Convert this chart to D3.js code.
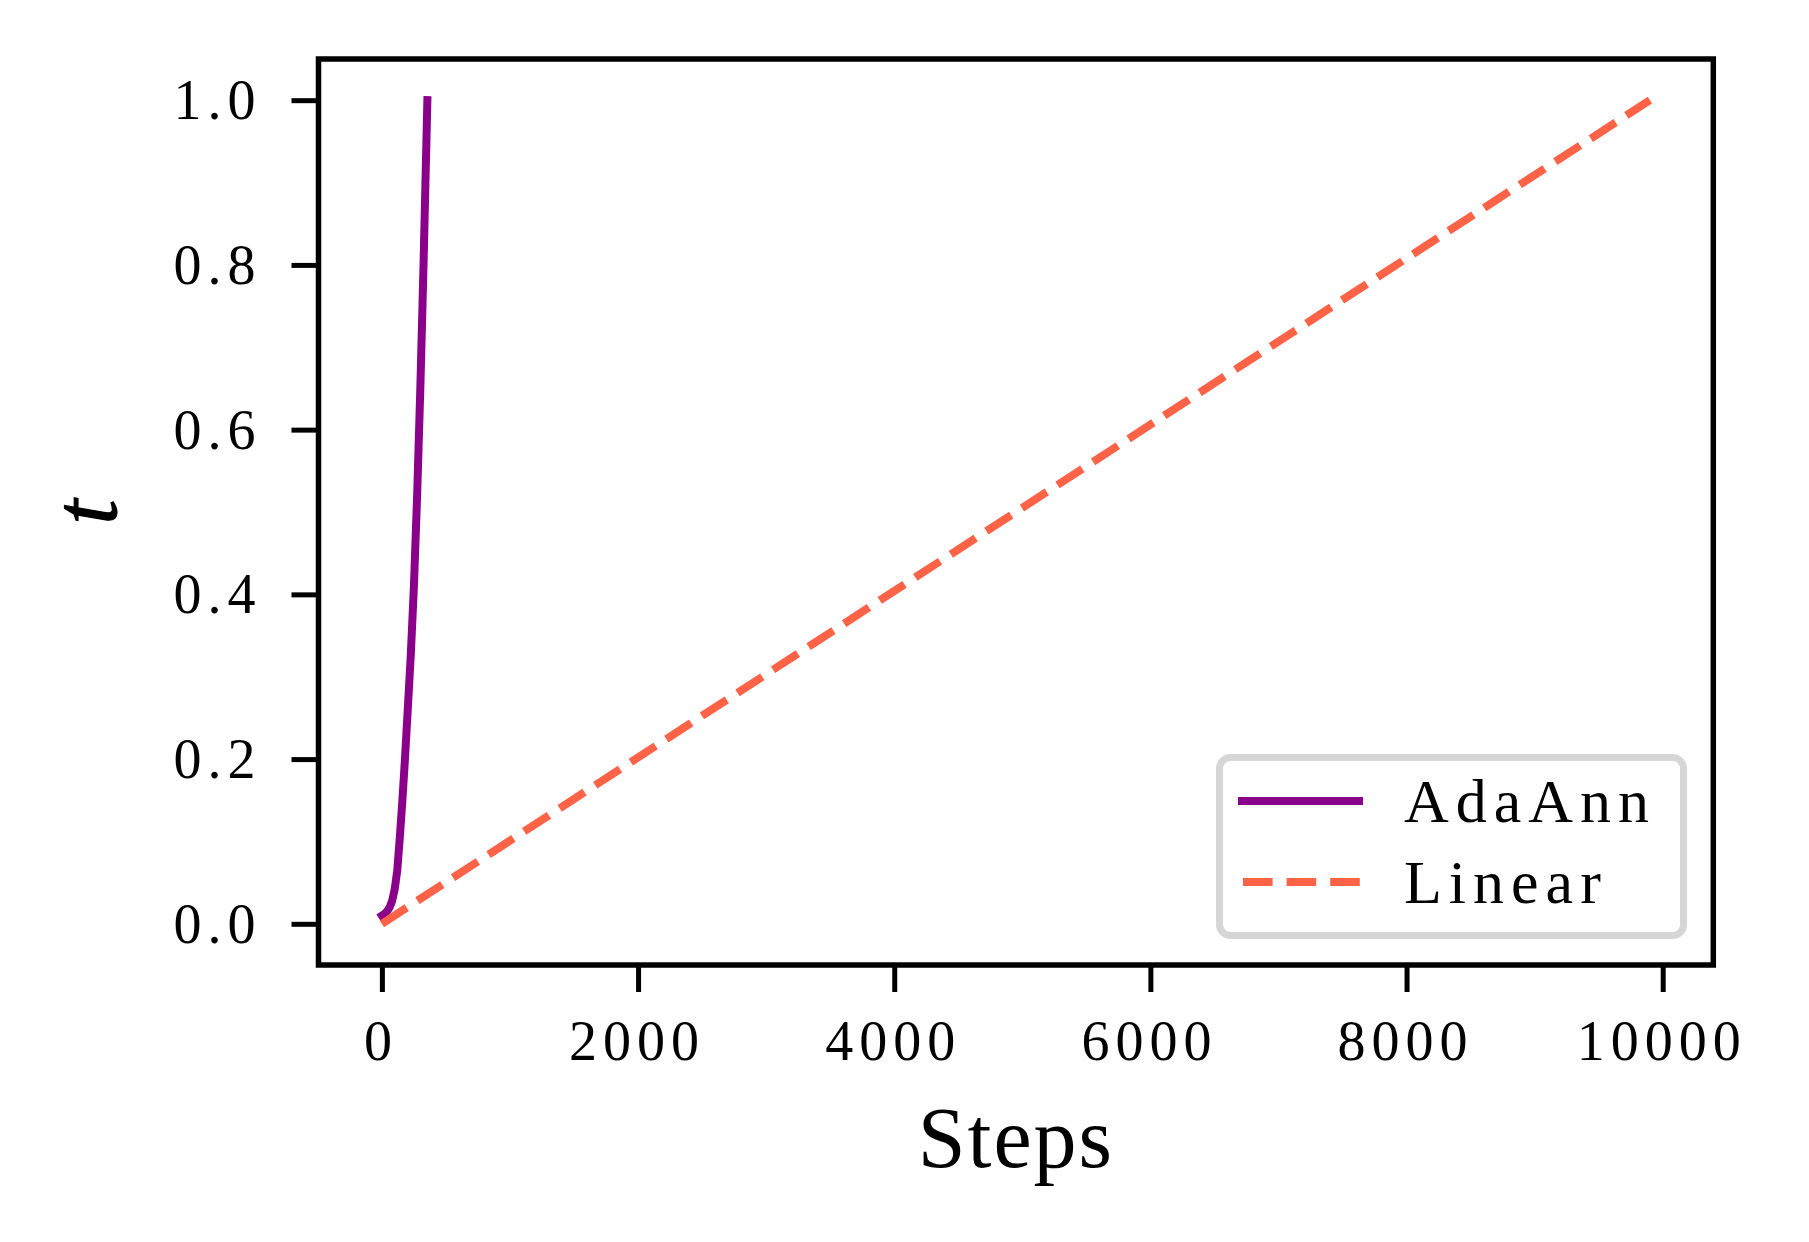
<!DOCTYPE html>
<html>
<head>
<meta charset="utf-8">
<script src="https://cdn.jsdelivr.net/npm/d3@7"></script>
<style>
    body { margin: 0; background: #ffffff; }
    svg text { font-family: "Liberation Serif", "DejaVu Serif", serif; fill: #000; }
</style>
</head>
<body>
<svg id="viz"></svg>
<script>
// AdaAnn schedule
var adaSteps = [0, 20, 40, 60, 80, 100, 120, 140, 160, 180, 200, 225, 250, 275, 300, 325, 355];
var adaT     = [0.01, 0.012, 0.015, 0.02, 0.028, 0.042, 0.065, 0.105, 0.15, 0.2, 0.255, 0.325, 0.41, 0.52, 0.65, 0.8, 1.0];

// Linear schedule
var linSteps = [0, 9900];
var linT     = [0, 1];

var xTicks = [0, 2000, 4000, 6000, 8000, 10000];
var yTicks = [0.0, 0.2, 0.4, 0.6, 0.8, 1.0];

var seriesNames = ['AdaAnn', 'Linear'];
var seriesColors = ['#8b008b', '#ff6347'];

(function(){
    var width = 1809;
    var height = 1242;

    // axes box in pixels
    var margin = { top: 59, right: 1809 - 1713.3, bottom: 1242 - 965, left: 318.5 };
    var drawWidth = width - margin.left - margin.right;
    var drawHeight = height - margin.top - margin.bottom;

    var svg = d3.select('#viz')
                .attr('width', width)
                .attr('height', height);

    var g = svg.append('g')
               .attr('transform', `translate(${margin.left}, ${margin.top})`);

    var xScale = d3.scaleLinear().domain([-495, 10395]).range([0, drawWidth]);
    var yScale = d3.scaleLinear().domain([-0.05, 1.05]).range([drawHeight, 0]);

    g.append('clipPath').attr('id', 'clip')
        .append('rect').attr('width', drawWidth).attr('height', drawHeight);

    var line = d3.line()
                 .x((d)=>xScale(d[0]))
                 .y((d)=>yScale(d[1]));

    var adaData = adaSteps.map((s, i)=>[s, adaT[i]]);
    var linData = linSteps.map((s, i)=>[s, linT[i]]);

    var plot = g.append('g').attr('clip-path', 'url(#clip)');

    plot.append('path')
        .datum(adaData)
        .attr('d', line)
        .attr('fill', 'none')
        .attr('stroke', seriesColors[0])
        .attr('stroke-width', 8)
        .attr('stroke-linecap', 'square')
        .attr('stroke-linejoin', 'round');

    plot.append('path')
        .datum(linData)
        .attr('d', line)
        .attr('fill', 'none')
        .attr('stroke', seriesColors[1])
        .attr('stroke-width', 8)
        .attr('stroke-dasharray', '29.6,12.8');

    // axes
    var yAxis = d3.axisLeft(yScale)
                  .tickValues(yTicks)
                  .tickFormat(d3.format('.1f'))
                  .tickSizeInner(27)
                  .tickSizeOuter(0)
                  .tickPadding(30);

    var xAxis = d3.axisBottom(xScale)
                  .tickValues(xTicks)
                  .tickFormat(d3.format('d'))
                  .tickSizeInner(27)
                  .tickSizeOuter(0)
                  .tickPadding(30);

    var yAxisG = g.append('g').call(yAxis);
    var xAxisG = g.append('g').attr('transform', `translate(0, ${drawHeight})`).call(xAxis);

    [xAxisG, yAxisG].forEach(function(a){
        a.select('.domain').remove();
        a.selectAll('line').attr('stroke', '#000').attr('stroke-width', 5);
        a.selectAll('text')
         .attr('font-family', '"Liberation Serif", serif')
         .attr('font-size', 56)
         .style('letter-spacing', '6px')
         .attr('fill', '#000');
    });
    yAxisG.selectAll('text').attr('dy', '0.33em');
    xAxisG.selectAll('text').attr('dy', '0.68em').attr('dx', -1.5);

    // frame (spines)
    g.append('rect')
     .attr('x', 0).attr('y', 0)
     .attr('width', drawWidth).attr('height', drawHeight)
     .attr('fill', 'none')
     .attr('stroke', '#000')
     .attr('stroke-width', 5.5)
     .attr('stroke-linecap', 'square');

    // axis labels
    svg.append('text')
       .attr('x', margin.left + drawWidth / 2)
       .attr('y', 1167)
       .attr('text-anchor', 'middle')
       .attr('font-size', 86)
       .style('letter-spacing', '2px')
       .text('Steps');

    svg.append('text')
       .attr('transform', `translate(116, ${margin.top + drawHeight / 2}) rotate(-90)`)
       .attr('text-anchor', 'middle')
       .attr('font-size', 90)
       .attr('font-style', 'italic')
       .attr('stroke', '#000')
       .attr('stroke-width', 1.2)
       .text('t');

    // legend
    var legend = svg.append('g').attr('class', 'legend');
    legend.append('rect')
          .attr('x', 1219.5).attr('y', 757.5)
          .attr('width', 464).attr('height', 178)
          .attr('rx', 11).attr('ry', 11)
          .attr('fill', '#ffffff')
          .attr('stroke', '#d6d6d6')
          .attr('stroke-width', 7);

    var legendY = [801, 882];
    var items = legend.selectAll('g.item')
                      .data(seriesNames)
                      .enter()
                      .append('g')
                      .attr('class', 'item')
                      .attr('transform', (d, i)=>`translate(0, ${legendY[i]})`);

    items.append('line')
         .attr('x1', (d, i)=> i == 0 ? 1238 : 1243)
         .attr('x2', (d, i)=> i == 0 ? 1363 : 1360)
         .attr('y1', 0).attr('y2', 0)
         .attr('stroke', (d, i)=>seriesColors[i])
         .attr('stroke-width', 8)
         .attr('stroke-dasharray', (d, i)=> i == 0 ? null : '29.6,14');

    items.append('text')
         .attr('x', 1404)
         .attr('y', 21)
         .attr('font-size', 62)
         .style('letter-spacing', '7px')
         .text((d)=>d);
})();
</script>
</body>
</html>
